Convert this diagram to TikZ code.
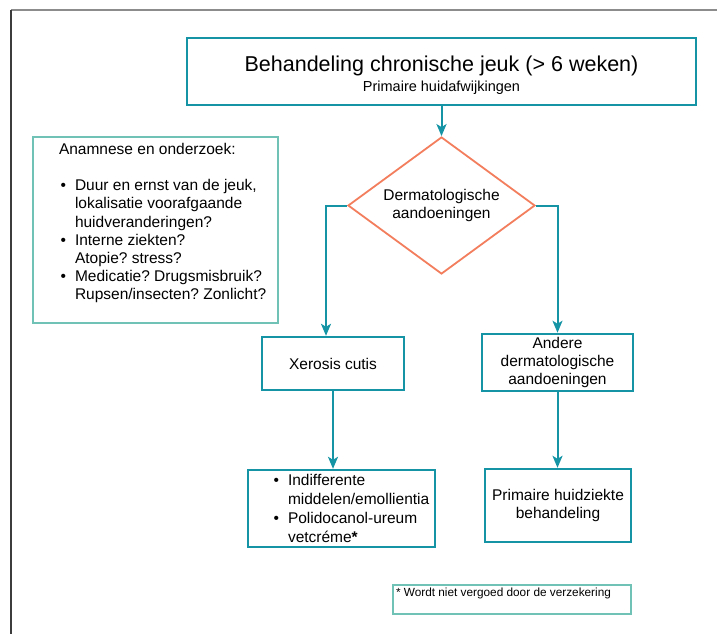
\documentclass[tikz,border=0pt]{standalone}
\usepackage{fontspec}
\setmainfont{Liberation Sans}
\usetikzlibrary{shapes.geometric,arrows.meta}

\definecolor{jeukteal}{RGB}{20,148,164}
\definecolor{jeukmint}{RGB}{112,194,182}
\definecolor{jeukorange}{RGB}{242,126,94}
\definecolor{framegrey}{RGB}{140,140,140}
\definecolor{framedark}{RGB}{60,60,60}

\frenchspacing

\newenvironment{jeuklist}{%
  \begin{list}{\textbullet}{%
    \setlength{\leftmargin}{16pt}%
    \setlength{\labelsep}{9pt}%
    \setlength{\labelwidth}{7pt}%
    \setlength{\itemsep}{0pt}\setlength{\parsep}{0pt}%
    \setlength{\topsep}{0pt}\setlength{\partopsep}{0pt}}}%
  {\end{list}}

\begin{document}
\begin{tikzpicture}[x=1pt,y=-1pt,
    box/.style={draw=jeukteal,line width=2.4pt,rectangle,align=center,
      font=\fontsize{15.5}{18}\selectfont},
    notebox/.style={draw=jeukmint,line width=2.2pt,rectangle,inner sep=0pt},
    flow/.style={draw=jeukteal,line width=2pt,
      -{Stealth[length=12pt,width=10pt,inset=3pt]}}]

  \useasboundingbox (0,0) rectangle (717,634);
  \draw[framegrey,line width=1.6pt] (11,10) -- (717,10);
  \draw[framedark,line width=1.6pt] (11,10) -- (11,634);

  \node[box,minimum width=509pt,minimum height=67pt] (title) at (441.5,71.5)
    {\rule{0pt}{23pt}{\fontsize{21.5}{25}\selectfont Behandeling chronische jeuk (> 6 weken)}\\[2.5pt]
     {\fontsize{14.5}{17}\selectfont Primaire huidafwijkingen}};

  \node[diamond,aspect=1.365,draw=jeukorange,line width=1.8pt,minimum width=187pt,minimum height=137pt,
    inner sep=0pt,align=center,font=\fontsize{15.5}{18}\selectfont] (dermat) at (441.5,205.5)
    {Dermatologische\\aandoeningen};

  \node[box,minimum width=142pt,minimum height=53pt] (xerosis) at (333,363.5) {Xerosis cutis};
  \node[box,minimum width=151pt,minimum height=57pt] (andere) at (557.5,362.5)
    {Andere\\dermatologische\\aandoeningen};

  \node[box,minimum width=187pt,minimum height=77pt,inner sep=0pt,align=left] (middelen) at (341.5,508.5)
    {\hspace*{24pt}\parbox{163pt}{\raggedright\fontsize{15.5}{18.7}\selectfont
      \begin{jeuklist}
        \item Indifferente\newline middelen/emollientia
        \item Polidocanol-ureum\newline vetcréme\textbf{*}
      \end{jeuklist}}};
  \node[box,minimum width=146pt,minimum height=73pt] (primair) at (558,505.5)
    {Primaire huidziekte\\behandeling};

  \node[notebox,minimum width=245pt,minimum height=186pt] (anamnese) at (155.5,230)
    {\hspace*{26pt}\parbox[c][186pt][t]{219pt}{\raggedright\fontsize{15.5}{18.2}\selectfont
      \vspace*{6pt}Anamnese en onderzoek:\par\vspace{18.2pt}
      \begin{jeuklist}
        \item Duur en ernst van de jeuk,\newline lokalisatie voorafgaande\newline huidveranderingen?
        \item Interne ziekten?\newline Atopie? stress?
        \item Medicatie? Drugsmisbruik?\newline Rupsen/insecten? Zonlicht?
      \end{jeuklist}}};

  \node[notebox,minimum width=238pt,minimum height=29pt] (voetnoot) at (512,599.5)
    {\hspace*{3pt}\parbox[c][29pt][t]{235pt}{\fontsize{11.8}{13}\selectfont
      \vspace*{3pt}* Wordt niet vergoed door de verzekering}};

  \draw[flow] (title) -- (dermat);
  \draw[flow] (dermat.west) -| ([xshift=-7pt]xerosis.north);
  \draw[flow] (dermat.east) -| (andere.north);
  \foreach \from/\to in {xerosis/middelen,andere/primair}{
    \draw[flow] (\from) -- (\from |- \to.north);
  }

\end{tikzpicture}
\end{document}
